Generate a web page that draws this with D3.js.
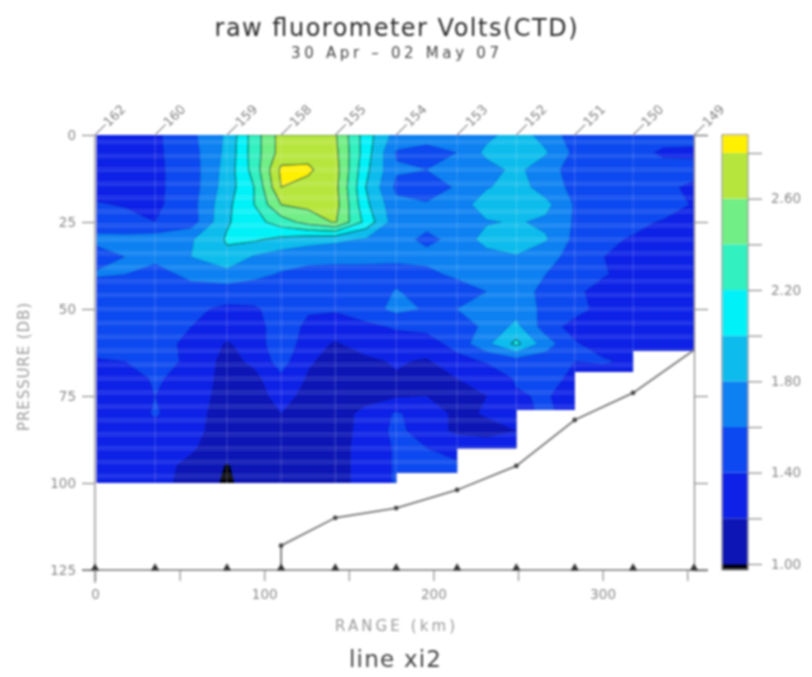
<!DOCTYPE html>
<html><head><meta charset="utf-8">
<style>html,body{margin:0;padding:0;background:#fff}svg{display:block}text{font-family:"DejaVu Sans",sans-serif}</style>
<script src="https://cdn.jsdelivr.net/npm/d3@7/dist/d3.min.js"></script>
</head><body><div id="c"></div>
<script>
const stationKm=[0,35.5,78,110,142,178,214,249,283.5,318,354];
const stationLon=["162","160","159","158","155","154","153","152","151","150","149"];
const gridKm=[0,17.8,35.5,56.8,78,94,110,126,142,160,178,196,214,231.5,249,266.3,283.5,300.8,318,336,354];
const gridDb=d3.range(0,101,5);
const stepKm=[0,178,214,249,283.5,318,354];
const stepDb=[100,97,90,79,68,62];
const bottomDb=[118,110,107.2,102,95.1,81.9,74.1,61.8];
const levels=[0.6,1.0,1.2,1.4,1.6,1.8,2.0,2.2,2.4,2.6,2.8];
const colors=["#06060c","#0a14b4","#0c20e6","#0a48f0","#0a80f2","#08bcec","#00f2f8","#30f0c0","#72ee86","#b6e63c","#fff000"];
const xTicks=[0,50,100,150,200,250,300,350];
const yTicks=[0,25,50,75,100,125];
const barTicks=[1.0,1.2,1.4,1.6,1.8,2.0,2.2,2.4,2.6,2.8];
const field=[
[1.32,1.32,1.36,1.55,1.83,2.3,2.68,2.72,2.62,2.1,1.72,1.72,1.72,1.74,1.9,1.72,1.5,1.5,1.5,1.5,1.5],
[1.3,1.3,1.36,1.52,1.85,2.3,2.68,2.74,2.65,2.1,1.58,1.5,1.6,1.85,1.95,1.82,1.55,1.5,1.48,1.36,1.35],
[1.3,1.28,1.36,1.5,1.88,2.28,2.84,2.83,2.68,2.05,1.62,1.6,1.68,1.72,1.85,1.68,1.52,1.5,1.48,1.48,1.48],
[1.3,1.3,1.36,1.5,1.9,2.2,2.8,2.74,2.66,2.0,1.56,1.5,1.62,1.78,1.9,1.7,1.55,1.52,1.5,1.45,1.35],
[1.42,1.38,1.36,1.52,1.95,2.2,2.6,2.65,2.68,2.05,1.65,1.62,1.68,1.92,1.98,1.86,1.58,1.58,1.55,1.5,1.38],
[1.5,1.48,1.4,1.5,1.98,2.12,2.3,2.48,2.62,2.14,1.68,1.66,1.72,1.78,1.82,1.76,1.58,1.55,1.45,1.38,1.3],
[1.65,1.65,1.7,1.78,2.02,2.03,1.95,1.88,1.84,1.78,1.68,1.55,1.66,1.88,1.95,1.82,1.55,1.44,1.38,1.3,1.3],
[1.5,1.6,1.68,1.8,1.96,1.78,1.7,1.66,1.66,1.66,1.66,1.66,1.68,1.72,1.78,1.66,1.54,1.4,1.28,1.28,1.28],
[1.62,1.6,1.48,1.68,1.72,1.66,1.58,1.54,1.52,1.52,1.5,1.55,1.64,1.68,1.72,1.6,1.5,1.42,1.3,1.28,1.28],
[1.5,1.48,1.46,1.48,1.5,1.48,1.48,1.48,1.45,1.42,1.62,1.48,1.5,1.6,1.68,1.55,1.45,1.3,1.28,1.26,1.26],
[1.48,1.48,1.48,1.44,1.36,1.38,1.46,1.42,1.42,1.5,1.66,1.58,1.6,1.65,1.72,1.55,1.48,1.32,1.28,1.28,1.28],
[1.48,1.46,1.46,1.4,1.3,1.32,1.5,1.36,1.3,1.36,1.42,1.46,1.48,1.65,1.85,1.5,1.32,1.26,1.26,1.26,1.26],
[1.48,1.46,1.46,1.36,1.18,1.28,1.55,1.28,1.18,1.28,1.32,1.3,1.48,1.75,2.05,1.7,1.42,1.3,1.28,1.28,1.28],
[1.38,1.4,1.44,1.38,1.12,1.25,1.48,1.22,1.14,1.16,1.22,1.18,1.32,1.42,1.5,1.48,1.4,1.42,1.36,1.3,1.3],
[1.3,1.32,1.42,1.34,1.12,1.14,1.36,1.18,1.1,1.12,1.18,1.16,1.2,1.25,1.42,1.46,1.36,1.3,1.3,1.3,1.3],
[1.28,1.28,1.4,1.3,1.12,1.12,1.27,1.14,1.1,1.12,1.18,1.2,1.12,1.2,1.38,1.42,1.3,1.3,1.3,1.3,1.3],
[1.28,1.28,1.42,1.28,1.1,1.1,1.2,1.12,1.1,1.26,1.42,1.32,1.15,1.22,1.3,1.45,1.3,1.3,1.3,1.3,1.3],
[1.28,1.28,1.34,1.26,1.1,1.1,1.1,1.1,1.12,1.26,1.45,1.3,1.16,1.14,1.2,1.3,1.3,1.3,1.3,1.3,1.3],
[1.26,1.26,1.28,1.22,1.1,1.1,1.1,1.1,1.12,1.28,1.42,1.4,1.35,1.3,1.3,1.3,1.3,1.3,1.3,1.3,1.3],
[1.26,1.26,1.26,1.16,0.985,1.1,1.1,1.1,1.12,1.28,1.42,1.42,1.42,1.3,1.3,1.3,1.3,1.3,1.3,1.3,1.3],
[1.26,1.26,1.26,1.14,0.96,1.1,1.1,1.1,1.12,1.28,1.42,1.42,1.42,1.3,1.3,1.3,1.3,1.3,1.3,1.3,1.3]
];

const W=812,H=677;
const x=d3.scaleLinear().domain([0,354]).range([95,694]);
const y=d3.scaleLinear().domain([0,125]).range([135,570]);
const bar=d3.scaleLinear().domain([1,2.8]).range([564,153]);
const colIdx=d3.scaleLinear().domain(gridKm.map((d,i)=>i)).range(gridKm);
const rowIdx=d3.scaleLinear().domain(gridDb.map((d,i)=>i)).range(gridDb);
const gray="#8c8c8c";

const svg=d3.select("#c").append("svg").attr("width",W).attr("height",H);
const defs=svg.append("defs");
defs.append("filter").attr("id","soft").attr("filterUnits","userSpaceOnUse").attr("x",0).attr("y",0).attr("width",W).attr("height",H)
  .append("feGaussianBlur").attr("stdDeviation",1.05);
const root=svg.append("g").attr("filter","url(#soft)");

const maskPts=[[0,0],[354,0]];
for(let i=stepDb.length-1;i>=0;i--){maskPts.push([stepKm[i+1],stepDb[i]]);maskPts.push([stepKm[i],stepDb[i]]);}
defs.append("clipPath").attr("id","mask").append("path")
  .attr("d",d3.line().x(d=>x(d[0])).y(d=>y(d[1]))(maskPts)+"Z");

const flat=field.flat();
const contours=d3.contours().size([gridKm.length,gridDb.length]).smooth(true).thresholds(levels)(flat);
const proj=d3.geoTransform({point(px,py){
  this.stream.point(x(colIdx(Math.max(0,Math.min(gridKm.length-1,px-0.5)))),
                    y(rowIdx(Math.max(0,Math.min(gridDb.length-1,py-0.5)))));
}});
const path=d3.geoPath(proj);
const plot=root.append("g").attr("clip-path","url(#mask)");
plot.selectAll("path.band").data(contours).join("path").attr("class","band")
  .attr("d",path).attr("fill",(d,i)=>colors[i])
  .attr("stroke",d=>d.value>=2?"#0a4a30":"#06308c")
  .attr("stroke-opacity",d=>d.value>=2?0.9:0.35)
  .attr("stroke-width",d=>d.value<=0.6?0:(d.value>=2?1.2:0.7));

plot.selectAll("line.st").data(d3.range(2,100,4)).join("line").attr("class","st")
  .attr("x1",95).attr("x2",694).attr("y1",d=>y(d)).attr("y2",d=>y(d))
  .attr("stroke","#fff").attr("stroke-opacity",0.1).attr("stroke-width",5);
plot.selectAll("line.sv").data(stationKm.slice(1,-1)).join("line").attr("class","sv")
  .attr("x1",d=>x(d)).attr("x2",d=>x(d)).attr("y1",135).attr("y2",483)
  .attr("stroke","#fff").attr("stroke-opacity",0.18).attr("stroke-width",1);

function styleAxis(g){
  g.selectAll("path.domain").attr("stroke",gray);
  g.selectAll(".tick line").attr("stroke",gray).attr("stroke-width",1.2);
  g.selectAll("text").attr("fill","#8a8a8a").attr("font-size",13.5);
}
root.append("g").attr("transform","translate(95,0)")
  .call(d3.axisLeft(y).tickValues(yTicks).tickSize(13).tickPadding(6).tickFormat(d3.format("d")))
  .call(styleAxis).call(g=>g.select("path.domain").attr("stroke","#bdbdbd").attr("stroke-width",2.5).attr("d","M0,135V583"));
root.append("g").attr("transform","translate(694,0)")
  .call(d3.axisRight(y).tickValues(yTicks).tickSize(14).tickFormat(""))
  .call(styleAxis).call(g=>g.select("path.domain").attr("stroke-width",1.3));
root.append("g").attr("transform","translate(0,570)")
  .call(d3.axisBottom(x).tickValues(xTicks).tickSize(11).tickPadding(8).tickFormat(d=>d%100===0?d:""))
  .call(styleAxis).call(g=>g.select("path.domain").attr("stroke","#777").attr("stroke-width",1.3).attr("d","M82,0H708"));

const bottomKm=stationKm.slice(3);
const line=d3.line().x(d=>x(d[0])).y(d=>y(d[1]));
const bottomPts=[[bottomKm[0],125]].concat(bottomKm.map((k,i)=>[k,bottomDb[i]]));
root.append("path").attr("d",line(bottomPts)).attr("fill","none").attr("stroke","#777").attr("stroke-width",1.8);
root.selectAll("circle.b").data(bottomPts.slice(1,-1)).join("circle").attr("class","b")
  .attr("cx",d=>x(d[0])).attr("cy",d=>y(d[1])).attr("r",2.4).attr("fill","#444");
root.selectAll("path.tri").data(stationKm).join("path").attr("class","tri")
  .attr("d",d3.symbol().type(d3.symbolTriangle).size(30))
  .attr("transform",d=>`translate(${x(d)},${y(125)-2})`).attr("fill","#333");

const lonG=root.selectAll("g.lon").data(stationKm).join("g").attr("class","lon")
  .attr("transform",d=>`translate(${x(d)},135) rotate(-45)`);
lonG.append("line").attr("x1",0).attr("x2",15).attr("stroke",gray).attr("stroke-width",1.1);
lonG.append("text").attr("x",15).attr("y",4.5).attr("fill","#808080").attr("font-size",13).text((d,i)=>stationLon[i]);

const barLo=0.974,barHi=2.88;
const bandEdges=[barLo,...levels.slice(1),barHi];
root.selectAll("rect.c").data(colors).join("rect").attr("class","c")
  .attr("x",722).attr("width",26)
  .attr("y",(d,i)=>bar(bandEdges[i+1])).attr("height",(d,i)=>bar(bandEdges[i])-bar(bandEdges[i+1]))
  .attr("fill",d=>d);
root.append("rect").attr("x",722).attr("width",26).attr("y",bar(barHi)).attr("height",bar(barLo)-bar(barHi))
  .attr("fill","none").attr("stroke","#8a8a8a").attr("stroke-width",1);
root.append("g").attr("transform","translate(748,0)")
  .call(d3.axisRight(bar).tickValues(barTicks).tickSize(14).tickPadding(9)
    .tickFormat(d=>[1,1.4,1.8,2.2,2.6].some(v=>Math.abs(v-d)<1e-6)?d3.format(".2f")(d):""))
  .call(styleAxis).call(g=>g.select("path.domain").attr("stroke","none"));

function label(t,cx,cy,size,len,fill,rot){
  root.append("text").attr("text-anchor","middle").attr("font-size",size).attr("fill",fill)
    .attr("textLength",len).attr("lengthAdjust","spacing").text(t)
    .attr("transform",`translate(${cx},${cy})`+(rot?` rotate(${rot})`:""));
}
label("raw fluorometer Volts(CTD)",396,36,24,363,"#2c2c2c");
label("30 Apr – 02 May 07",395,58,15,208,"#444");
label("RANGE (km)",395,631,15,120,"#9a9a9a");
label("PRESSURE (DB)",29,367,15,128,"#9a9a9a",-90);
label("line xi2",395,667,23,92,"#444");
</script></body></html>
